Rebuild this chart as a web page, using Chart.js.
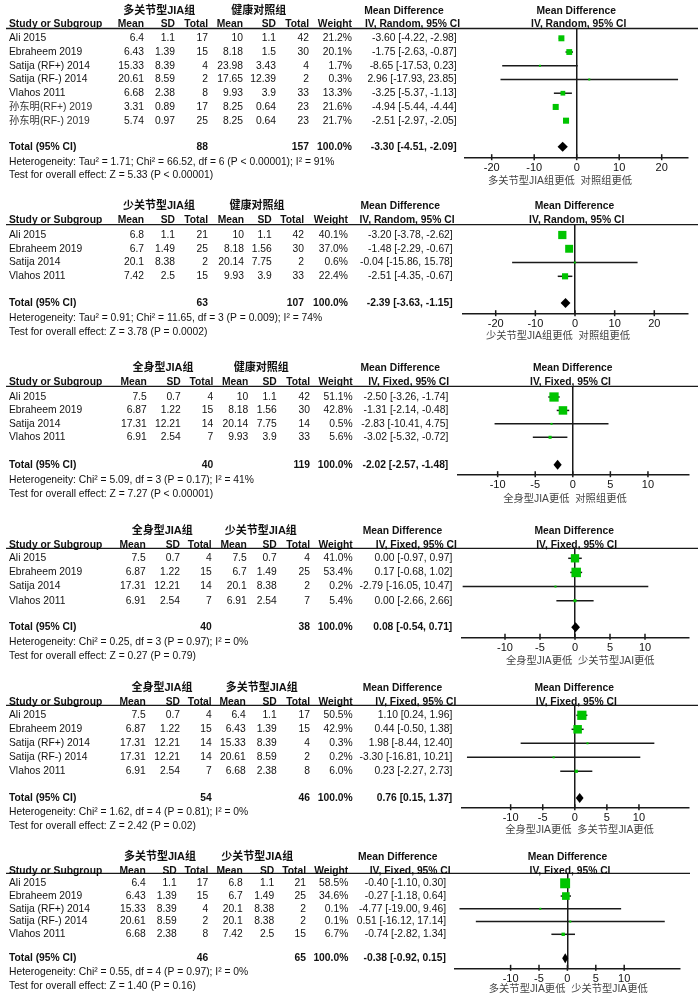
<!DOCTYPE html>
<html><head><meta charset="utf-8">
<script src="https://cdn.jsdelivr.net/npm/chart.js@4.4.0/dist/chart.umd.min.js"></script>
<style>
html,body{margin:0;padding:0;background:#fff;}
#wrap{position:relative;width:698px;height:1000px;background:#fff;overflow:hidden;}
#wrap canvas{position:absolute;left:0;top:0;}
</style></head><body><div id="wrap"></div>
<script>
// ---------------- DATA ----------------
// Panel 1: 多关节型JIA组 vs 健康对照组
const p1Groups = ["多关节型JIA组", "健康对照组"];
const p1Method = "IV, Random, 95% CI";
const p1Studies = ["Ali 2015","Ebraheem 2019","Satija (RF+) 2014","Satija (RF-) 2014","Vlahos 2011","孙东明(RF+) 2019","孙东明(RF-) 2019"];
const p1Mean1 = [6.4, 6.43, 15.33, 20.61, 6.68, 3.31, 5.74];
const p1SD1 = [1.1, 1.39, 8.39, 8.59, 2.38, 0.89, 0.97];
const p1N1 = [17, 15, 4, 2, 8, 17, 25];
const p1Mean2 = [10, 8.18, 23.98, 17.65, 9.93, 8.25, 8.25];
const p1SD2 = [1.1, 1.5, 3.43, 12.39, 3.9, 0.64, 0.64];
const p1N2 = [42, 30, 4, 2, 33, 23, 23];
const p1Weight = [21.2, 20.1, 1.7, 0.3, 13.3, 21.6, 21.7];
const p1MD = [-3.60, -1.75, -8.65, 2.96, -3.25, -4.94, -2.51];
const p1Lo = [-4.22, -2.63, -17.53, -17.93, -5.37, -5.44, -2.97];
const p1Hi = [-2.98, -0.87, 0.23, 23.85, -1.13, -4.44, -2.05];
const p1Totals = [88, 157];
const p1Pooled = [-3.30, -4.51, -2.09];
const p1Het = "Heterogeneity: Tau² = 1.71; Chi² = 66.52, df = 6 (P < 0.00001); I² = 91%";
const p1Test = "Test for overall effect: Z = 5.33 (P < 0.00001)";
const p1Ticks = [-20, -10, 0, 10, 20];
const p1AxisLabel = "多关节型JIA组更低  对照组更低";

// Panel 2: 少关节型JIA组 vs 健康对照组
const p2Groups = ["少关节型JIA组", "健康对照组"];
const p2Method = "IV, Random, 95% CI";
const p2Studies = ["Ali 2015","Ebraheem 2019","Satija 2014","Vlahos 2011"];
const p2Mean1 = [6.8, 6.7, 20.1, 7.42];
const p2SD1 = [1.1, 1.49, 8.38, 2.5];
const p2N1 = [21, 25, 2, 15];
const p2Mean2 = [10, 8.18, 20.14, 9.93];
const p2SD2 = [1.1, 1.56, 7.75, 3.9];
const p2N2 = [42, 30, 2, 33];
const p2Weight = [40.1, 37.0, 0.6, 22.4];
const p2MD = [-3.20, -1.48, -0.04, -2.51];
const p2Lo = [-3.78, -2.29, -15.86, -4.35];
const p2Hi = [-2.62, -0.67, 15.78, -0.67];
const p2Totals = [63, 107];
const p2Pooled = [-2.39, -3.63, -1.15];
const p2Het = "Heterogeneity: Tau² = 0.91; Chi² = 11.65, df = 3 (P = 0.009); I² = 74%";
const p2Test = "Test for overall effect: Z = 3.78 (P = 0.0002)";
const p2Ticks = [-20, -10, 0, 10, 20];
const p2AxisLabel = "少关节型JIA组更低  对照组更低";

// Panel 3: 全身型JIA组 vs 健康对照组
const p3Groups = ["全身型JIA组", "健康对照组"];
const p3Method = "IV, Fixed, 95% CI";
const p3Studies = ["Ali 2015","Ebraheem 2019","Satija 2014","Vlahos 2011"];
const p3Mean1 = [7.5, 6.87, 17.31, 6.91];
const p3SD1 = [0.7, 1.22, 12.21, 2.54];
const p3N1 = [4, 15, 14, 7];
const p3Mean2 = [10, 8.18, 20.14, 9.93];
const p3SD2 = [1.1, 1.56, 7.75, 3.9];
const p3N2 = [42, 30, 14, 33];
const p3Weight = [51.1, 42.8, 0.5, 5.6];
const p3MD = [-2.50, -1.31, -2.83, -3.02];
const p3Lo = [-3.26, -2.14, -10.41, -5.32];
const p3Hi = [-1.74, -0.48, 4.75, -0.72];
const p3Totals = [40, 119];
const p3Pooled = [-2.02, -2.57, -1.48];
const p3Het = "Heterogeneity: Chi² = 5.09, df = 3 (P = 0.17); I² = 41%";
const p3Test = "Test for overall effect: Z = 7.27 (P < 0.00001)";
const p3Ticks = [-10, -5, 0, 5, 10];
const p3AxisLabel = "全身型JIA更低  对照组更低";

// Panel 4: 全身型JIA组 vs 少关节型JIA组
const p4Groups = ["全身型JIA组", "少关节型JIA组"];
const p4Method = "IV, Fixed, 95% CI";
const p4Studies = ["Ali 2015","Ebraheem 2019","Satija 2014","Vlahos 2011"];
const p4Mean1 = [7.5, 6.87, 17.31, 6.91];
const p4SD1 = [0.7, 1.22, 12.21, 2.54];
const p4N1 = [4, 15, 14, 7];
const p4Mean2 = [7.5, 6.7, 20.1, 6.91];
const p4SD2 = [0.7, 1.49, 8.38, 2.54];
const p4N2 = [4, 25, 2, 7];
const p4Weight = [41.0, 53.4, 0.2, 5.4];
const p4MD = [0.00, 0.17, -2.79, 0.00];
const p4Lo = [-0.97, -0.68, -16.05, -2.66];
const p4Hi = [0.97, 1.02, 10.47, 2.66];
const p4Totals = [40, 38];
const p4Pooled = [0.08, -0.54, 0.71];
const p4Het = "Heterogeneity: Chi² = 0.25, df = 3 (P = 0.97); I² = 0%";
const p4Test = "Test for overall effect: Z = 0.27 (P = 0.79)";
const p4Ticks = [-10, -5, 0, 5, 10];
const p4AxisLabel = "全身型JIA更低  少关节型JAI更低";

// Panel 5: 全身型JIA组 vs 多关节型JIA组
const p5Groups = ["全身型JIA组", "多关节型JIA组"];
const p5Method = "IV, Fixed, 95% CI";
const p5Studies = ["Ali 2015","Ebraheem 2019","Satija (RF+) 2014","Satija (RF-) 2014","Vlahos 2011"];
const p5Mean1 = [7.5, 6.87, 17.31, 17.31, 6.91];
const p5SD1 = [0.7, 1.22, 12.21, 12.21, 2.54];
const p5N1 = [4, 15, 14, 14, 7];
const p5Mean2 = [6.4, 6.43, 15.33, 20.61, 6.68];
const p5SD2 = [1.1, 1.39, 8.39, 8.59, 2.38];
const p5N2 = [17, 15, 4, 2, 8];
const p5Weight = [50.5, 42.9, 0.3, 0.2, 6.0];
const p5MD = [1.10, 0.44, 1.98, -3.30, 0.23];
const p5Lo = [0.24, -0.50, -8.44, -16.81, -2.27];
const p5Hi = [1.96, 1.38, 12.40, 10.21, 2.73];
const p5Totals = [54, 46];
const p5Pooled = [0.76, 0.15, 1.37];
const p5Het = "Heterogeneity: Chi² = 1.62, df = 4 (P = 0.81); I² = 0%";
const p5Test = "Test for overall effect: Z = 2.42 (P = 0.02)";
const p5Ticks = [-10, -5, 0, 5, 10];
const p5AxisLabel = "全身型JIA更低  多关节型JIA更低";

// Panel 6: 多关节型JIA组 vs 少关节型JIA组
const p6Groups = ["多关节型JIA组", "少关节型JIA组"];
const p6Method = "IV, Fixed, 95% CI";
const p6Studies = ["Ali 2015","Ebraheem 2019","Satija (RF+) 2014","Satija (RF-) 2014","Vlahos 2011"];
const p6Mean1 = [6.4, 6.43, 15.33, 20.61, 6.68];
const p6SD1 = [1.1, 1.39, 8.39, 8.59, 2.38];
const p6N1 = [17, 15, 4, 2, 8];
const p6Mean2 = [6.8, 6.7, 20.1, 20.1, 7.42];
const p6SD2 = [1.1, 1.49, 8.38, 8.38, 2.5];
const p6N2 = [21, 25, 2, 2, 15];
const p6Weight = [58.5, 34.6, 0.1, 0.1, 6.7];
const p6MD = [-0.40, -0.27, -4.77, 0.51, -0.74];
const p6Lo = [-1.10, -1.18, -19.00, -16.12, -2.82];
const p6Hi = [0.30, 0.64, 9.46, 17.14, 1.34];
const p6Totals = [46, 65];
const p6Pooled = [-0.38, -0.92, 0.15];
const p6Het = "Heterogeneity: Chi² = 0.55, df = 4 (P = 0.97); I² = 0%";
const p6Test = "Test for overall effect: Z = 1.40 (P = 0.16)";
const p6Ticks = [-10, -5, 0, 5, 10];
const p6AxisLabel = "多关节型JIA更低  少关节型JIA更低";

// ---------------- LAYOUT (positions only) ----------------
const LAYOUT = [
  {lineY:28.5, row0:38.3, sp:13.73, totalY:146.7, axisY:157.7, x0:465, x1:688, zero:576.7, unit:4.25,
   groupY:10.7, headY:24, hetY:162.3, testY:175.3, alY:181, alC:560,
   cols:[9,144,175,208,243,276,309,352], mdR:456.7, mdC:404, ivC:412.5, pmdC:576.2, pivC:578.7, g1:159.2, g2:258.7, lx0:6, lx1:698},
  {lineY:224.7, row0:235, sp:13.77, totalY:303, axisY:313.7, x0:462.7, x1:688, zero:575, unit:3.965,
   groupY:205.7, headY:220.3, hetY:317.7, testY:332, alY:336, alC:558,
   cols:[9,144,175,208,244,271.7,304,348], mdR:452.7, mdC:400.3, ivC:407, pmdC:574.5, pivC:576.7, g1:159, g2:257, lx0:6, lx1:698},
  {lineY:386.3, row0:397, sp:13.43, totalY:464.7, axisY:474.7, x0:457.3, x1:688.3, zero:572.8, unit:7.515,
   groupY:368, headY:382, hetY:479.7, testY:493.7, alY:498.7, alC:565,
   cols:[9,146.7,180.7,213.3,248.3,276.7,310,352.7], mdR:448.3, mdC:400.3, ivC:408.7, pmdC:572.7, pivC:570.5, g1:163, g2:261.3, lx0:6, lx1:698},
  {lineY:548.3, row0:558.3, sp:14.13, totalY:627.3, axisY:637.3, x0:461.7, x1:688.3, zero:575, unit:7.0,
   groupY:530.7, headY:545, hetY:642, testY:655.7, alY:660.7, alC:580.3,
   cols:[9,145.7,180,211.7,246.7,276.7,310,352.7], mdR:452.3, mdC:402.5, ivC:416.3, pmdC:574.2, pivC:576.7, g1:162.2, g2:260.8, lx0:6, lx1:698},
  {lineY:705.3, row0:715.3, sp:14.0, totalY:798, axisY:807.7, x0:461.7, x1:688.3, zero:574.8, unit:6.415,
   groupY:687.7, headY:702, hetY:812, testY:826, alY:830.3, alC:579.5,
   cols:[9,145.7,180,211.7,245.7,276.7,310,352.7], mdR:452.3, mdC:402.5, ivC:415.8, pmdC:574.2, pivC:576.3, g1:162, g2:261.7, lx0:6, lx1:698},
  {lineY:873.3, row0:883.3, sp:12.75, totalY:958.3, axisY:968.3, x0:455, x1:680, zero:567.4, unit:5.68,
   groupY:856.7, headY:870.7, hetY:972.3, testY:985.7, alY:989, alC:568.3,
   cols:[9,145.7,176.7,208.3,242.7,274.3,306,348.3], mdR:446, mdC:397.8, ivC:410.2, pmdC:567.5, pivC:570, g1:160, g2:257.2, lx0:6, lx1:690}
];
const AXIS_BOX = 20; // height reserved for tick labels below each axis

// ---------------- BUILD ----------------
const PANELS = [
  {groups:p1Groups, method:p1Method, studies:p1Studies, m1:p1Mean1, s1:p1SD1, n1:p1N1, m2:p1Mean2, s2:p1SD2, n2:p1N2, wt:p1Weight, md:p1MD, lo:p1Lo, hi:p1Hi, totals:p1Totals, pooled:p1Pooled, het:p1Het, test:p1Test, ticks:p1Ticks, axisLabel:p1AxisLabel},
  {groups:p2Groups, method:p2Method, studies:p2Studies, m1:p2Mean1, s1:p2SD1, n1:p2N1, m2:p2Mean2, s2:p2SD2, n2:p2N2, wt:p2Weight, md:p2MD, lo:p2Lo, hi:p2Hi, totals:p2Totals, pooled:p2Pooled, het:p2Het, test:p2Test, ticks:p2Ticks, axisLabel:p2AxisLabel},
  {groups:p3Groups, method:p3Method, studies:p3Studies, m1:p3Mean1, s1:p3SD1, n1:p3N1, m2:p3Mean2, s2:p3SD2, n2:p3N2, wt:p3Weight, md:p3MD, lo:p3Lo, hi:p3Hi, totals:p3Totals, pooled:p3Pooled, het:p3Het, test:p3Test, ticks:p3Ticks, axisLabel:p3AxisLabel},
  {groups:p4Groups, method:p4Method, studies:p4Studies, m1:p4Mean1, s1:p4SD1, n1:p4N1, m2:p4Mean2, s2:p4SD2, n2:p4N2, wt:p4Weight, md:p4MD, lo:p4Lo, hi:p4Hi, totals:p4Totals, pooled:p4Pooled, het:p4Het, test:p4Test, ticks:p4Ticks, axisLabel:p4AxisLabel},
  {groups:p5Groups, method:p5Method, studies:p5Studies, m1:p5Mean1, s1:p5SD1, n1:p5N1, m2:p5Mean2, s2:p5SD2, n2:p5N2, wt:p5Weight, md:p5MD, lo:p5Lo, hi:p5Hi, totals:p5Totals, pooled:p5Pooled, het:p5Het, test:p5Test, ticks:p5Ticks, axisLabel:p5AxisLabel},
  {groups:p6Groups, method:p6Method, studies:p6Studies, m1:p6Mean1, s1:p6SD1, n1:p6N1, m2:p6Mean2, s2:p6SD2, n2:p6N2, wt:p6Weight, md:p6MD, lo:p6Lo, hi:p6Hi, totals:p6Totals, pooled:p6Pooled, het:p6Het, test:p6Test, ticks:p6Ticks, axisLabel:p6AxisLabel}
];

const FONT = "'Liberation Sans', Arial, 'Noto Sans CJK SC', sans-serif";
const FS = 10.3;
const W = 698, H = 1000;
const GREEN = '#00c400';
const INK = '#1a1a1a';

function fmtCI(m, l, h) { return m.toFixed(2) + ' [' + l.toFixed(2) + ', ' + h.toFixed(2) + ']'; }

function txt(ctx, s, x, y, align, font, color) {
  ctx.font = font; ctx.textAlign = align; ctx.textBaseline = 'middle';
  ctx.fillStyle = color || '#111';
  ctx.fillText(s, x, y);
}

function makePlugin(P, L) {
  return {
    id: 'forestTable',
    afterDatasetsDraw(chart) {
      const ctx = chart.ctx, xs = chart.scales.x, ys = chart.scales.y, ca = chart.chartArea;
      const reg = FS + 'px ' + FONT, bold = 'bold ' + FS + 'px ' + FONT;
      ctx.save();
      // diamond for pooled estimate
      const ty = ys.getPixelForValue((L.totalY - L.row0) / L.sp);
      const dl = xs.getPixelForValue(P.pooled[1]), dm = xs.getPixelForValue(P.pooled[0]), dr = xs.getPixelForValue(P.pooled[2]);
      ctx.beginPath();
      ctx.moveTo(dl, ty); ctx.lineTo(dm, ty - 5); ctx.lineTo(dr, ty); ctx.lineTo(dm, ty + 5); ctx.closePath();
      ctx.fillStyle = '#000'; ctx.fill();
      // tick marks crossing the axis
      ctx.strokeStyle = INK; ctx.lineWidth = 1.5;
      P.ticks.forEach(v => {
        const px = xs.getPixelForValue(v);
        ctx.beginPath(); ctx.moveTo(px, ca.bottom - 3.5); ctx.lineTo(px, ca.bottom + 2.5); ctx.stroke();
      });
      // top rule
      ctx.lineWidth = 1.3;
      ctx.beginPath(); ctx.moveTo(L.lx0, ca.top); ctx.lineTo(L.lx1, ca.top); ctx.stroke();
      // group headers
      const gf = 'bold 11px ' + FONT;
      txt(ctx, P.groups[0], L.g1, L.groupY, 'center', gf);
      txt(ctx, P.groups[1], L.g2, L.groupY, 'center', gf);
      txt(ctx, 'Mean Difference', L.mdC, L.groupY, 'center', bold);
      txt(ctx, 'Mean Difference', L.pmdC, L.groupY, 'center', bold);
      // column headers
      const C = L.cols;
      txt(ctx, 'Study or Subgroup', C[0], L.headY, 'left', bold);
      ['Mean','SD','Total','Mean','SD','Total','Weight'].forEach((h, k) => txt(ctx, h, C[k + 1], L.headY, 'right', bold));
      txt(ctx, P.method, L.ivC, L.headY, 'center', bold);
      txt(ctx, P.method, L.pivC, L.headY, 'center', bold);
      // study rows
      P.studies.forEach((s, i) => {
        const yy = ys.getPixelForValue(i);
        const cjk = /[\u4e00-\u9fff]/.test(s);
        txt(ctx, s, C[0], yy, 'left', reg, cjk ? '#333' : '#111');
        [P.m1[i], P.s1[i], P.n1[i], P.m2[i], P.s2[i], P.n2[i]].forEach((v, k) => txt(ctx, String(v), C[k + 1], yy, 'right', reg));
        txt(ctx, P.wt[i].toFixed(1) + '%', C[7], yy, 'right', reg);
        txt(ctx, fmtCI(P.md[i], P.lo[i], P.hi[i]), L.mdR, yy, 'right', reg);
      });
      // total row
      txt(ctx, 'Total (95% CI)', C[0], ty, 'left', bold);
      txt(ctx, String(P.totals[0]), C[3], ty, 'right', bold);
      txt(ctx, String(P.totals[1]), C[6], ty, 'right', bold);
      txt(ctx, '100.0%', C[7], ty, 'right', bold);
      txt(ctx, fmtCI(P.pooled[0], P.pooled[1], P.pooled[2]), L.mdR, ty, 'right', bold);
      // heterogeneity / test
      txt(ctx, P.het, C[0], L.hetY, 'left', reg);
      txt(ctx, P.test, C[0], L.testY, 'left', reg);
      // axis caption
      txt(ctx, P.axisLabel, L.alC, L.alY, 'center', FS + 'px ' + FONT, '#444');
      ctx.restore();
    }
  };
}

const wrap = document.getElementById('wrap');
PANELS.forEach((P, pi) => {
  const L = LAYOUT[pi];
  const cv = document.createElement('canvas');
  cv.width = W; cv.height = H;
  cv.style.width = W + 'px'; cv.style.height = H + 'px';
  wrap.appendChild(cv);
  const datasets = [];
  datasets.push({
    type: 'scatter',
    data: P.md.map((m, i) => ({x: m, y: i})),
    pointStyle: 'rect',
    pointRadius: P.wt.map(w => Math.max(2, 1.3 * Math.sqrt(w)) / Math.SQRT2),
    pointHoverRadius: P.wt.map(w => Math.max(2, 1.3 * Math.sqrt(w)) / Math.SQRT2),
    backgroundColor: GREEN, borderWidth: 0, order: 0, clip: false
  });
  P.lo.forEach((l, i) => {
    datasets.push({
      type: 'scatter', showLine: true,
      data: [{x: l, y: i}, {x: P.hi[i], y: i}],
      borderColor: INK, borderWidth: 1.5, pointRadius: 0, order: 1, clip: false
    });
  });
  new Chart(cv, {
    type: 'scatter',
    data: {datasets},
    options: {
      responsive: false, animation: false, events: [],
      layout: {padding: {left: L.x0, right: W - L.x1, top: L.lineY, bottom: H - L.axisY - AXIS_BOX}},
      plugins: {legend: {display: false}, tooltip: {enabled: false}},
      scales: {
        x: {
          type: 'linear', position: 'bottom',
          min: (L.x0 - L.zero) / L.unit, max: (L.x1 - L.zero) / L.unit,
          afterBuildTicks: s => { s.ticks = P.ticks.map(v => ({value: v})); },
          afterFit: s => { s.height = AXIS_BOX; },
          grid: {
            drawOnChartArea: true, drawTicks: false, lineWidth: 1.5,
            color: c => (c.tick && c.tick.value === 0) ? INK : 'rgba(0,0,0,0)'
          },
          border: {display: true, color: INK, width: 1.5},
          ticks: {padding: 4, color: '#111', font: {family: FONT, size: 11}, maxRotation: 0, autoSkip: false, callback: v => String(v)}
        },
        y: {
          type: 'linear', display: false, reverse: true,
          min: (L.lineY - L.row0) / L.sp, max: (L.axisY - L.row0) / L.sp
        }
      }
    },
    plugins: [makePlugin(P, L)]
  });
});
</script>
</body></html>
